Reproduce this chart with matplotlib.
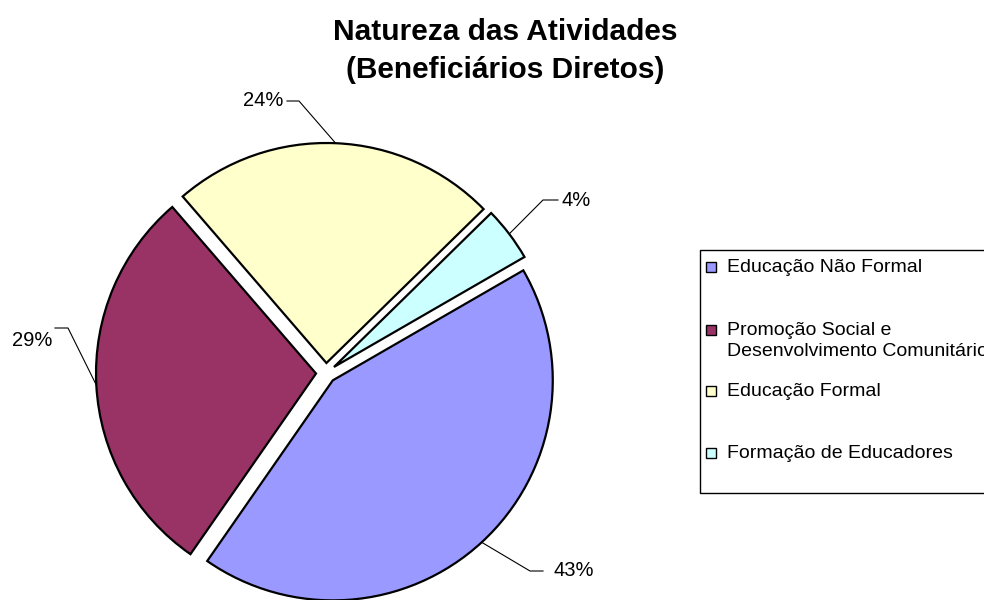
import matplotlib.pyplot as plt
from matplotlib.patches import Rectangle
import numpy as np

# data
categories = ['Educação Não Formal',
              'Promoção Social e\nDesenvolvimento Comunitário',
              'Educação Formal',
              'Formação de Educadores']
shares = [43, 29, 24, 4]
colors = ['#9999FF', '#993366', '#FFFFCC', '#CCFFFF']

plt.rcParams['font.family'] = ['Liberation Sans', 'DejaVu Sans']

fig = plt.figure(figsize=(9.84, 6.0), dpi=100)
ax = fig.add_axes([0, 0, 1, 1])

# pie drawn in pixel-like units (y axis flipped)
cx, cy, r = 326, 373, 220
wedges, _ = ax.pie(shares, colors=colors, center=(cx, cy), radius=r,
                   explode=[10] * len(shares), startangle=-30, counterclock=True,
                   wedgeprops=dict(edgecolor='black', linewidth=1.6))
ax.set_xlim(0, 984)
ax.set_ylim(600, 0)
ax.set_aspect('auto')
ax.axis('off')

# percentage labels with leader lines
elbows = [(530, 571), (68, 328), (299, 101), (543, 200)]
ends = [(543, 571), (55, 328), (287, 101), (558, 200)]
text_pos = [(553, 571, 'left'), (52, 341, 'right'), (283, 101, 'right'), (561, 201, 'left')]
for w, v, el, en, tp in zip(wedges, shares, elbows, ends, text_pos):
    tm = np.deg2rad((w.theta1 + w.theta2) / 2)
    ax_, ay_ = w.center[0] + w.r * np.cos(tm), w.center[1] + w.r * np.sin(tm)
    ax.plot([ax_, el[0], en[0]], [ay_, el[1], en[1]], color='black', lw=0.8)
    ax.text(tp[0], tp[1], f'{v}%', ha=tp[2], va='center', fontsize=14.5)

# legend box (runs past the right edge, as in the original)
ax.add_patch(Rectangle((700, 250), 320, 243, facecolor='white', edgecolor='black', lw=1))
leg_y = [267, 330, 391, 453]
for lab, c, y in zip(categories, colors, leg_y):
    ax.add_patch(Rectangle((706, y - 5), 10, 10, facecolor=c, edgecolor='black', lw=1))
    ax.text(727, y - 8, lab, ha='left', va='top', fontsize=14, linespacing=1.3)

fig.text(0.513, 0.915, 'Natureza das Atividades\n(Beneficiários Diretos)',
         ha='center', va='center', fontsize=21.5, fontweight='bold', linespacing=1.45)

fig.savefig('out.png', dpi=100)
